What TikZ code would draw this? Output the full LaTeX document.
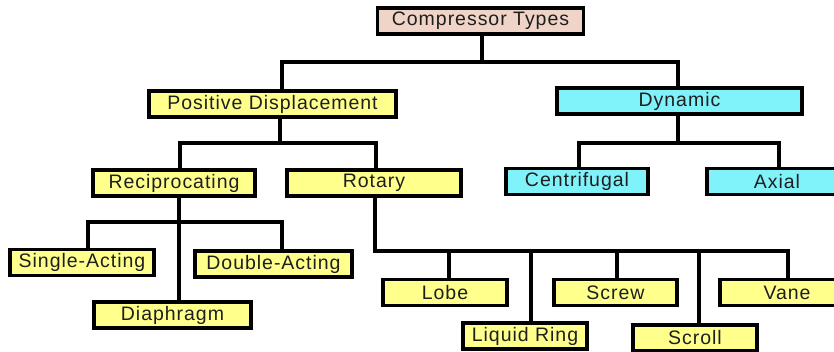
\documentclass[tikz,border=0pt]{standalone}
\usepackage{fontspec}
\setmainfont{Liberation Sans}[LetterSpace=5]
\definecolor{pinkbox}{RGB}{240,212,200}
\definecolor{yelbox}{RGB}{255,255,140}
\definecolor{cyanbox}{RGB}{128,242,250}
\definecolor{txt}{RGB}{30,30,30}
\tikzset{
  box/.style={draw=black, line width=3.2pt, rectangle, minimum height=26pt, inner sep=0pt, text=txt, font=\fontsize{19.5}{22}\selectfont},
  ybox/.style={box, fill=yelbox},
  cbox/.style={box, fill=cyanbox},
  pbox/.style={box, fill=pinkbox},
  link/.style={draw=black, line width=3.2pt},
}
\begin{document}
\begin{tikzpicture}[x=1pt,y=-1pt]
\useasboundingbox (0,0) rectangle (834,351);
\clip (0,0) rectangle (834,351);
% nodes
\node[pbox, minimum width=206pt] (ct) at (480.5,21) {Compressor Types};
\node[ybox, minimum width=247pt] (pd) at (272.5,104) {Positive Displacement};
\node[cbox, minimum width=245pt] (dyn) at (679.5,101) {Dynamic};
\node[ybox, minimum width=162pt] (rec) at (174,183) {Reciprocating};
\node[ybox, minimum width=174pt] (rot) at (374,183) {Rotary};
\node[cbox, minimum width=142pt] (cen) at (577,181.5) {Centrifugal};
\node[cbox, minimum width=140pt] (ax) at (777,181.5) {Axial};
\node[ybox, minimum width=144pt] (sa) at (82,262.5) {Single-Acting};
\node[ybox, minimum width=157pt] (da) at (273.5,264) {Double-Acting};
\node[ybox, minimum width=157pt] (dia) at (172.5,315) {Diaphragm};
\node[ybox, minimum width=124pt] (lobe) at (445,292.5) {Lobe};
\node[ybox, minimum width=123pt] (screw) at (615.5,292.5) {Screw};
\node[ybox, minimum width=134pt] (vane) at (787,292.5) {Vane};
\node[ybox, minimum width=124pt] (lr) at (525,336) {Liquid Ring};
\node[ybox, minimum width=124pt] (scroll) at (695,338) {Scroll};
% junctions
\coordinate (j1) at (482,62);
\coordinate (j2) at (280,143);
\coordinate (j3) at (678,143);
\coordinate (j4) at (179,222);
\coordinate (j5) at (375,251);
% connectors
\draw[link] (ct.south -| j1) -- (j1);
\draw[link] ([xshift=9.5]pd.north) |- (j1) -| ([xshift=-1.5]dyn.north);
\draw[link] (pd.south -| j2) -- (j2);
\draw[link] ([xshift=6]rec.north) |- (j2) -| ([xshift=2]rot.north);
\draw[link] (dyn.south -| j3) -- (j3);
\draw[link] ([xshift=2]cen.north) |- (j3) -| ([xshift=2]ax.north);
\draw[link] (rec.south -| j4) -- (dia.north -| j4);
\draw[link] ([xshift=6]sa.north) |- (j4) -| ([xshift=8.5]da.north);
\draw[link] (rot.south -| j5) -- (j5) -| ([xshift=1]vane.north);
\draw[link] ([xshift=4]lobe.north) -- ([xshift=4]lobe.north |- j5);
\draw[link] ([xshift=6]lr.north) -- ([xshift=6]lr.north |- j5);
\draw[link] ([xshift=1.5]screw.north) -- ([xshift=1.5]screw.north |- j5);
\draw[link] ([xshift=4]scroll.north) -- ([xshift=4]scroll.north |- j5);
\end{tikzpicture}
\end{document}
